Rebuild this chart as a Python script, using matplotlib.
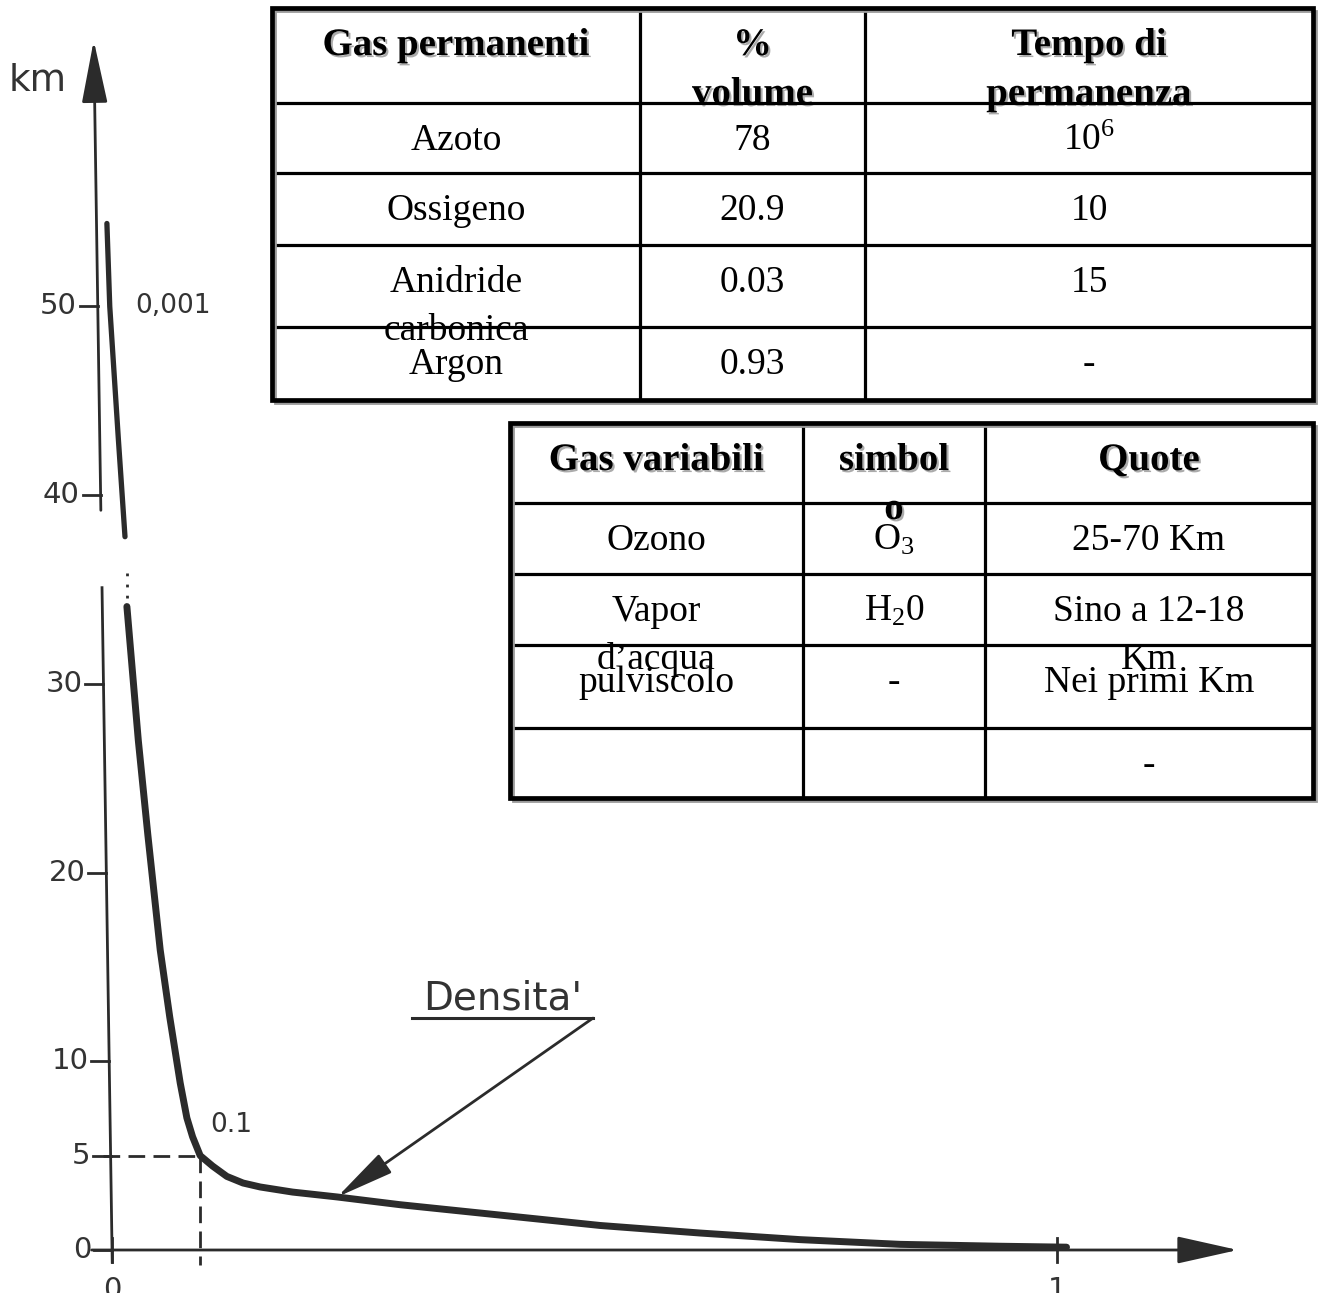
import matplotlib
matplotlib.use("Agg")
import matplotlib.pyplot as plt
import matplotlib.patheffects as pe
from matplotlib.patches import Rectangle

# altitude (km) against air density
upper_density = [0.002, 0.005, 0.014, 0.021]
upper_km = [54.4, 50.0, 43.0, 37.8]
break_density = [0.023, 0.023]
break_km = [35.9, 34.1]
lower_density = [0.023, 0.035, 0.045, 0.058, 0.068, 0.079, 0.086, 0.092,
                 0.1, 0.113, 0.128, 0.145, 0.163, 0.197, 0.244, 0.31, 0.415,
                 0.52, 0.625, 0.73, 0.835, 0.94, 1.01]
lower_km = [34.1, 27.0, 22.0, 15.9, 12.35, 8.85, 7.0, 6.0,
            5.0, 4.45, 3.9, 3.55, 3.34, 3.07, 2.81, 2.4, 1.85,
            1.3, 0.9, 0.55, 0.3, 0.2, 0.15]

ytick_km = [0, 5, 10, 20, 30, 40, 50]
xtick_density = [0, 1]
y_unit = "km"
ref_density = 0.1
ref_km = 5
ref_label = "0.1"
top_label = "0,001"
top_label_km = 50
curve_label = "Densita'"
arrow_point = 14  # index on the lower curve where the label arrow lands

# tables
perm_gas = ["Gas permanenti", "Azoto", "Ossigeno", "Anidride\ncarbonica", "Argon"]
perm_volume = ["%\nvolume", "78", "20.9", "0.03", "0.93"]
perm_time = ["Tempo di\npermanenza", r"10$^{6}$", "10", "15", "-"]

var_gas = ["Gas variabili", "Ozono", "Vapor\nd\u2019acqua", "pulviscolo", ""]
var_symbol = ["simbol\no", r"O$_{3}$", r"H$_{2}$0", "-", ""]
var_quote = ["Quote", "25-70 Km", "Sino a 12-18\nKm", "Nei primi Km", "-"]

plt.rcParams["mathtext.fontset"] = "custom"
plt.rcParams["mathtext.rm"] = "Liberation Serif"
plt.rcParams["mathtext.it"] = "Liberation Serif:italic"
plt.rcParams["mathtext.bf"] = "Liberation Serif:bold"

W, H = 1321, 1293
INK = "#2b2b2b"
TXT = "#333333"

fig = plt.figure(figsize=(W / 100, H / 100), dpi=100)
fig.patch.set_facecolor("white")

# chart axes: density 0 at 105 px, 1 at 1057 px; 0 km at 1250 px, 18.87 px per km
ax = fig.add_axes([0, 0, 1, 1])
ax.set_xlim(-105 / 952, (W - 105) / 952)
ax.set_ylim((1250 - H) / 18.87, 1250 / 18.87)
ax.axis("off")


def axis_x(km):
    # the scanned y axis leans slightly to the left going up
    return 0.0074 - 0.0003 * km


# y axis, broken between ~35 and ~39 km
ax.plot([axis_x(-0.65), axis_x(35.1)], [-0.65, 35.1], color=INK, lw=2.0)
ax.annotate("", xy=(axis_x(64.1), 64.1), xytext=(axis_x(39.2), 39.2),
            arrowprops=dict(arrowstyle="-|>,head_length=39,head_width=8",
                            mutation_scale=1, lw=2.0, color=INK,
                            shrinkA=0, shrinkB=0))
ax.annotate(y_unit, xy=(axis_x(61.4), 61.4), xytext=(-20, 0),
            textcoords="offset points", ha="right", va="baseline",
            fontsize=27, color=TXT, family="DejaVu Sans")
# x axis
ax.annotate("", xy=(1.19, 0), xytext=(-0.014, 0),
            arrowprops=dict(arrowstyle="-|>,head_length=38,head_width=8.5",
                            mutation_scale=1, lw=2.0, color=INK,
                            shrinkA=0, shrinkB=0))

for v in ytick_km:
    x0 = axis_x(v)
    ax.plot([x0 - 0.019, x0], [v, v], color=INK, lw=2.0)
    ax.annotate(str(v), xy=(x0 - 0.019, v), xytext=(-2, 0),
                textcoords="offset points", ha="right", va="center",
                fontsize=21, color=TXT, family="DejaVu Sans")

for v in xtick_density:
    xv = v + (0.0074 if v == 0 else 0)
    ax.plot([xv, xv], [-0.65, 0.65], color=INK, lw=2.0)
    ax.text(xv, -2.1, str(v), ha="center", va="center", fontsize=21,
            color=TXT, family="DejaVu Sans")

# dashed guide at 0.1 / 5 km
ax.plot([axis_x(ref_km) - 0.008, ref_density], [ref_km, ref_km], color=INK,
        lw=2.0, dashes=[6, 3])
ax.plot([ref_density, ref_density], [ref_km, -0.8], color=INK, lw=2.0,
        dashes=[6, 3])

# density curve
ax.plot(upper_density, upper_km, color=INK, lw=3.8, solid_capstyle="round")
ax.plot(break_density, break_km, color=INK, lw=2.0, ls=(0, (1, 3)))
ax.plot(lower_density, lower_km, color=INK, lw=5.0, solid_capstyle="round",
        solid_joinstyle="round")

ax.annotate(top_label, xy=(upper_density[1], top_label_km), xytext=(18, 0),
            textcoords="offset points", ha="left", va="center",
            fontsize=19, color=TXT, family="DejaVu Sans")
ax.annotate(ref_label, xy=(ref_density, ref_km), xytext=(22, 22),
            textcoords="offset points", ha="center", va="center",
            fontsize=19, color=TXT, family="DejaVu Sans")

# "Densita'" label with underline and arrow to the curve
ax.text(0.334, 12.72, curve_label, ha="left", va="baseline", fontsize=28,
        color=TXT, family="DejaVu Sans")
ax.plot([0.3225, 0.5126], [12.29, 12.29], color=INK, lw=2.2)
ax.annotate("", xy=(lower_density[arrow_point], lower_km[arrow_point]),
            xytext=(0.5126, 12.29),
            arrowprops=dict(arrowstyle="-|>,head_length=36,head_width=7",
                            mutation_scale=1, lw=2.0, color=INK,
                            shrinkA=0, shrinkB=0))

# tables, laid out in pixel coordinates
tb = fig.add_axes([0, 0, 1, 1])
tb.set_xlim(0, W)
tb.set_ylim(H, 0)
tb.axis("off")
tb.patch.set_alpha(0)

shadow = [pe.withSimplePatchShadow(offset=(1.5, -1.5), shadow_rgbFace="#888888",
                                   alpha=0.7)]


def draw_table(x_edges, y_edges, columns):
    left, right = x_edges[0], x_edges[-1]
    top, bottom = y_edges[0], y_edges[-1]
    tb.add_patch(Rectangle((left, top), right - left, bottom - top,
                           facecolor="white", edgecolor="none", zorder=1))
    for x in x_edges[1:-1]:
        tb.plot([x, x], [top, bottom], color="black", lw=2.3,
                solid_capstyle="butt", zorder=3)
    for y in y_edges[1:-1]:
        tb.plot([left, right], [y, y], color="black", lw=2.3,
                solid_capstyle="butt", zorder=3)
    tb.add_patch(Rectangle((left + 3, top + 3), right - left, bottom - top,
                           fill=False, lw=2.0, edgecolor="#9a9a9a", zorder=3))
    tb.add_patch(Rectangle((left, top), right - left, bottom - top,
                           fill=False, lw=3.4, edgecolor="black", zorder=4))
    for c, col in enumerate(columns):
        cx = (x_edges[c] + x_edges[c + 1]) / 2
        for r, cell in enumerate(col):
            base = y_edges[r] + 47
            for k, line in enumerate(cell.split("\n")):
                if r == 0:
                    tb.text(cx, base + 49 * k, line, ha="center", va="baseline",
                            fontsize=28, fontweight="bold",
                            family="Liberation Serif", zorder=2,
                            path_effects=shadow)
                else:
                    tb.text(cx, base + 48 * k, line, ha="center", va="baseline",
                            fontsize=27, family="Liberation Serif", zorder=2)


draw_table([272, 640, 865, 1313], [8, 103, 173, 245, 327, 400],
           [perm_gas, perm_volume, perm_time])
draw_table([510, 803, 985, 1313], [423, 503, 574, 645, 728, 798],
           [var_gas, var_symbol, var_quote])

fig.savefig("out.png", dpi=100, facecolor="white")
